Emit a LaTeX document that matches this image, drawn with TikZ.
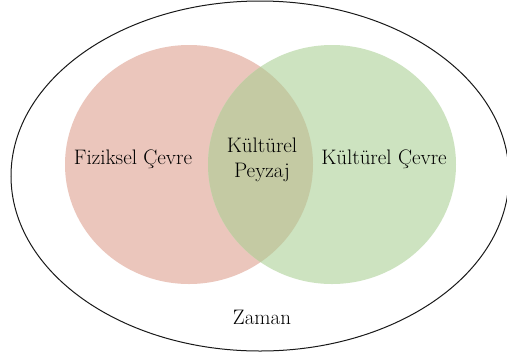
\documentclass[tikz,border=0pt]{standalone}
\usetikzlibrary{shapes.geometric}
\begin{document}
\begin{tikzpicture}[x=1pt,y=-1pt,
  lbl/.style={font=\fontsize{21}{25}\selectfont, text=black, align=center, inner sep=0pt}]
\definecolor{red1}{HTML}{EBC6BC}
\definecolor{green1}{HTML}{CDE3C0}
\definecolor{mix1}{HTML}{C4CAA3}
\useasboundingbox (0,0) rectangle (507,360);
\fill[white] (0,0) rectangle (507,360);
\node[draw=black!90, line width=1pt, ellipse, minimum width=498pt, minimum height=350pt, inner sep=0pt] (zaman) at (260,176) {};
\fill[red1] (189,164.5) ellipse [x radius=124, y radius=119.5];
\fill[green1] (332,164.5) ellipse [x radius=124, y radius=119.5];
\begin{scope}
\clip (189,164.5) ellipse [x radius=124, y radius=119.5];
\fill[mix1] (332,164.5) ellipse [x radius=124, y radius=119.5];
\end{scope}
\node[lbl] (fiz) at (133,159) {Fiziksel Çevre};
\node[lbl] (pey) at (262,160) {Kültürel\\Peyzaj};
\node[lbl] (kul) at (384,159) {Kültürel Çevre};
\node[lbl] (zam) at (262,317) {Zaman};
\end{tikzpicture}
\end{document}
